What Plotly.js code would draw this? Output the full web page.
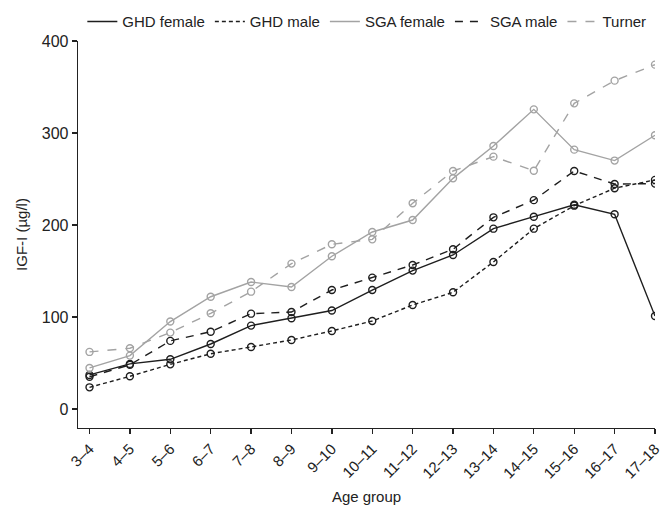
<!DOCTYPE html>
<html>
<head>
<meta charset="utf-8">
<script src="https://cdn.plot.ly/plotly-3.0.1.min.js"></script>
<style>
  html, body { margin: 0; padding: 0; background: #fff; }
  #chart { width: 664px; height: 505px; }
</style>
</head>
<body>
<div id="chart"></div>
<script>
const ageGroups = ["3–4","4–5","5–6","6–7","7–8","8–9","9–10","10–11","11–12","12–13","13–14","14–15","15–16","16–17","17–18"];
const ghdFemale = [37, 49, 54, 70.6, 90.6, 98.6, 107, 129.3, 150.4, 167.4, 196, 209, 222, 211.6, 101];
const ghdMale   = [23.5, 35.5, 48.5, 60, 67.4, 75, 84.8, 95.6, 113, 126.8, 159.8, 196, 221, 240, 249];
const sgaFemale = [44.6, 58, 95, 122, 138, 132.6, 166, 192.4, 205.4, 250.7, 285.9, 325.7, 281.9, 270, 297.5];
const sgaMale   = [35, 48, 74, 84, 103.6, 105.4, 129.3, 142.8, 156.5, 173.6, 208.3, 227, 258.7, 244.5, 245];
const turner    = [62, 66, 83, 104, 127.5, 158, 179, 184.4, 223.6, 258.7, 274.3, 259, 332.2, 356.9, 374.3];

const seriesNames = ["GHD female", "GHD male", "SGA female", "SGA male", "Turner"];
const seriesData = [ghdFemale, ghdMale, sgaFemale, sgaMale, turner];
const BLACK = "#1e1e1e", GRAY = "#a3a3a3";
const seriesStyle = [
  {color: BLACK, dash: "solid"},
  {color: BLACK, dash: "4px,3px"},
  {color: GRAY,  dash: "solid"},
  {color: BLACK, dash: "8px,7px"},
  {color: GRAY,  dash: "9px,9px"}
];

const FONT = "'Liberation Sans', Arial, Helvetica, sans-serif";
const traces = [];
seriesData.forEach((vals, i) => {
  traces.push({
    x: ageGroups, y: vals, name: seriesNames[i], type: "scatter", mode: "lines",
    line: {color: seriesStyle[i].color, dash: seriesStyle[i].dash, width: 1.4},
    showlegend: true, hoverinfo: "skip"
  });
});
seriesData.forEach((vals, i) => {
  traces.push({
    x: ageGroups, y: vals, name: seriesNames[i], type: "scatter", mode: "markers",
    marker: {symbol: "circle-open", size: 7, color: seriesStyle[i].color, line: {width: 1.4, color: seriesStyle[i].color}},
    showlegend: false, hoverinfo: "skip"
  });
});

const layout = {
  width: 664, height: 505,
  margin: {l: 78, r: 9, t: 41, b: 77, autoexpand: false},
  paper_bgcolor: "#fff", plot_bgcolor: "#fff",
  font: {family: FONT, size: 15, color: "#222"},
  showlegend: true,
  legend: {orientation: "h", xref: "container", x: 0.124, xanchor: "left",
           yref: "container", y: 0.957, yanchor: "middle",
           font: {family: FONT, size: 15, color: "#222"}, bgcolor: "rgba(0,0,0,0)", tracegroupgap: 0},
  xaxis: {
    type: "category", range: [-0.285, 14],
    showline: true, linecolor: "#222", linewidth: 1.3,
    ticks: "outside", ticklen: 5, tickwidth: 1.3, tickcolor: "#222",
    showgrid: false, zeroline: false, tickangle: -45,
    tickfont: {family: FONT, size: 15, color: "#222"},
    title: {text: "Age group", font: {family: FONT, size: 15, color: "#222"}, standoff: 12}
  },
  yaxis: {
    range: [-20.7, 400], tickvals: [0, 100, 200, 300, 400],
    showline: true, linecolor: "#222", linewidth: 1.3,
    ticks: "outside", ticklen: 5, tickwidth: 1.3, tickcolor: "#222",
    showgrid: false, zeroline: false,
    tickfont: {family: FONT, size: 16, color: "#222"},
    title: {text: "IGF-I (µg/l)", font: {family: FONT, size: 15, color: "#222"}, standoff: 10}
  }
};

Plotly.newPlot("chart", traces, layout, {displayModeBar: false, staticPlot: true});
</script>
</body>
</html>
